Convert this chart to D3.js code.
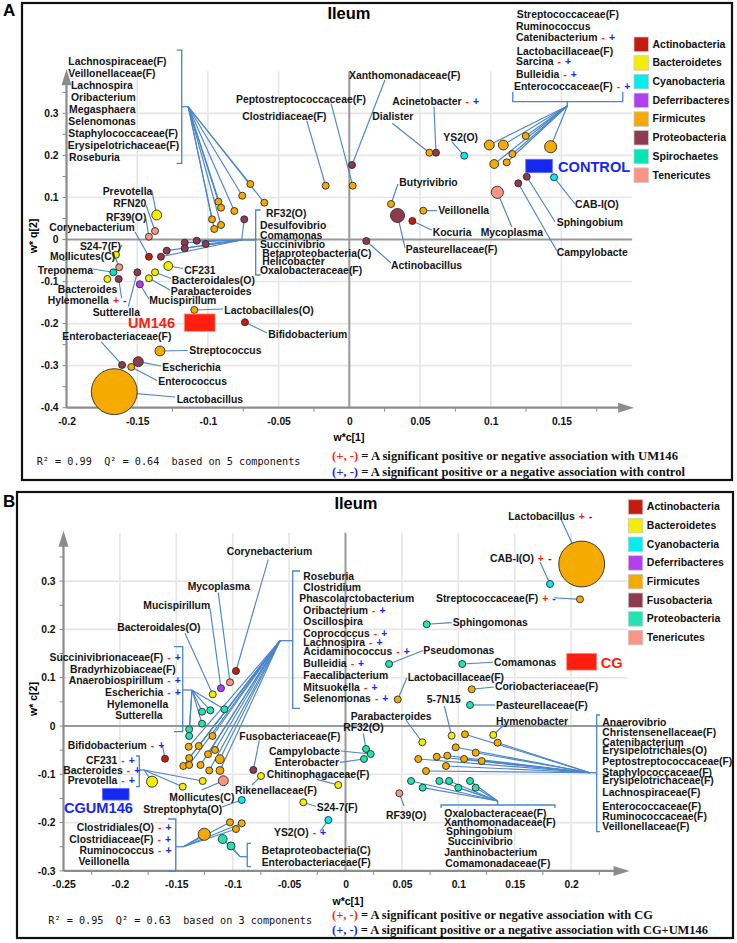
<!DOCTYPE html>
<html><head><meta charset="utf-8">
<script src="https://cdn.jsdelivr.net/npm/d3@7"></script>
<style>
body{margin:0;background:#fff}
svg text{font-family:"Liberation Sans",Arial,sans-serif}
</style></head><body>
<svg id="c" width="737" height="943"></svg>
<script>
// ---------------- DATA ----------------
// phylum codes
const phylaA = [["Actinobacteria","A"],["Bacteroidetes","B"],["Cyanobacteria","C"],["Deferribacteres","D"],["Firmicutes","F"],["Proteobacteria","P"],["Spirochaetes","S"],["Tenericutes","T"]];
const phylaB = [["Actinobacteria","A"],["Bacteroidetes","B"],["Cyanobacteria","C"],["Deferribacteres","D"],["Firmicutes","F"],["Fusobacteria","U"],["Proteobacteria","P"],["Tenericutes","T"]];

const xTicksA = [-0.2,-0.15,-0.1,-0.05,0,0.05,0.1,0.15];
const yTicksA = [-0.4,-0.3,-0.2,-0.1,0,0.1,0.2,0.3];
const xTicksB = [-0.25,-0.2,-0.15,-0.1,-0.05,0,0.05,0.1,0.15,0.2];
const yTicksB = [-0.3,-0.2,-0.1,0,0.1,0.2,0.3];

// points: [name, w*c[1], w*q[2], phylum, relative weight]
const pointsA = [
["lachno",-0.0926,0.0899,"F",1],["lachno",-0.0907,0.0756,"F",1],["lachno",-0.0971,0.0480,"F",1],
["lachno",-0.0955,0.0250,"F",1],["lachno",-0.0907,0.0345,"F",1],["lachno",-0.0813,0.0678,"F",1],
["lachno",-0.0757,0.1041,"F",1],["lachno",-0.0700,0.1320,"F",1],["lachno",-0.0601,0.0875,"F",1],
["Prevotella",-0.1362,0.0583,"B",2],["RFN20",-0.1374,0.0202,"T",1],["RF39",-0.1417,0.0067,"T",1],
["Corynebacterium",-0.1417,-0.0409,"A",1],["Clostridiaceae",-0.0167,0.1279,"F",1],
["Peptostrep",0.0024,0.1279,"F",1],["Xantho",0.0019,0.1771,"P",1],
["rf32",-0.0743,0.0480,"P",1],["rf32",-0.1164,-0.0076,"P",1],["rf32",-0.1164,-0.0209,"P",1],
["rf32",-0.1079,-0.0029,"P",1],["rf32",-0.1016,-0.0107,"P",1],["rf32",-0.1291,-0.0266,"P",1],
["rf32",-0.1332,-0.0409,"P",1],
["S24-7",-0.1650,-0.0361,"B",1],["Mollicutes",-0.1627,-0.0661,"T",1],["Treponema",-0.1669,-0.0780,"S",1],
["Bacteroides",-0.1711,-0.0939,"B",1],["Hylemonella",-0.1631,-0.0939,"P",1],["Sutterella",-0.1499,-0.0780,"P",1],
["Bacteroidales",-0.1374,-0.0780,"B",1],["Parabacteroides",-0.1417,-0.0922,"B",1],["Mucispirillum",-0.1481,-0.1065,"D",1],
["CF231",-0.1280,-0.0630,"B",1.6],["Lactobacillales",-0.1096,-0.1676,"F",1],["Bifidobacterium",-0.0738,-0.1969,"A",1],
["Streptococcus",-0.1339,-0.2651,"F",2],["Enterobacteriaceae",-0.1607,-0.2984,"P",1],["Escherichia",-0.1492,-0.2905,"P",2],
["Enterococcus",-0.1542,-0.3031,"F",1],["Lactobacillus",-0.1662,-0.3619,"F",43],
["Acinetobacter",0.0613,0.2064,"P",1],["Dialister",0.0566,0.2064,"F",1],["YS2",0.0813,0.1992,"C",1],
["strep",0.0990,0.2247,"F",2],["strep",0.1089,0.2247,"F",2],["strep",0.1248,0.2461,"F",1],["strep",0.1153,0.2033,"F",1],
["strep",0.1025,0.1795,"F",1.6],["strep",0.1113,0.1835,"F",1],["strep",0.1424,0.2206,"F",3],
["Sphingobium",0.1255,0.1493,"P",1],["Campylobacte",0.1195,0.1336,"P",1],["CAB-I",0.1448,0.1479,"C",1],
["Mycoplasma",0.1047,0.1122,"T",3],["Butyrivibrio",0.0295,0.0844,"F",1],["Pasteurellaceae",0.0341,0.0571,"P",4],
["Veillonella",0.0523,0.0685,"F",1],["Kocuria",0.0446,0.0440,"A",1],["Actinobacillus",0.0120,-0.0036,"P",1]
];

// labels: [text, x, y, significance signs, anchor]
const labelsA = [
["Lachnospiraceae(F)",-0.1987,0.4227],["Veillonellaceae(F)",-0.1987,0.3942],["Lachnospira",-0.1968,0.3657],
["Oribacterium",-0.1968,0.3371],["Megasphaera",-0.1982,0.3086],["Selenomonas",-0.1987,0.2801],
["Staphylococcaceae(F)",-0.1987,0.2515],["Erysipelotrichaceae(F)",-0.1991,0.2230],["Roseburia",-0.1982,0.1954],
["Prevotella",-0.1744,0.1153],["RFN20",-0.1669,0.0861],["RF39(O)",-0.1721,0.0528],["Corynebacterium",-0.2122,0.0281],
["S24-7(F)",-0.1905,-0.0155],["Mollicutes(C)",-0.2117,-0.0392],["Treponema",-0.2204,-0.0732],["Bacteroides",-0.2062,-0.1184],
["Hylemonella",-0.2133,-0.1438,"+-"],["Sutterella",-0.1815,-0.1731],["Bacteroidales(O)",-0.1256,-0.0963],
["Parabacteroides",-0.1263,-0.1241],["Mucispirillum",-0.1414,-0.1438],["CF231",-0.1167,-0.0725],
["Lactobacillales(O)",-0.0884,-0.1676],["Bifidobacterium",-0.0573,-0.2254],["Streptococcus",-0.1132,-0.2644],
["Enterobacteriaceae(F)",-0.2030,-0.2294],["Escherichia",-0.1322,-0.3048],["Enterococcus",-0.1351,-0.3381],
["Lactobacillus",-0.1221,-0.3799],["Clostridiaceae(F)",-0.0757,0.2920],["Peptostreptococcaceae(F)",-0.0801,0.3340],
["Xanthomonadaceae(F)",-0.0002,0.3911],
["RF32(O)",-0.0589,0.0623],["Desulfovibrio",-0.0632,0.0345],["Comamonas",-0.0632,0.0107],["Succinivibrio",-0.0632,-0.0107],
["Betaproteobacteria(C)",-0.0615,-0.0328],["Helicobacter",-0.0615,-0.0511],["Oxalobacteraceae(F)",-0.0632,-0.0742],
["Acinetobacter",0.0304,0.3293,"-+"],["Dialister",0.0163,0.2920],["YS2(O)",0.0665,0.2420],["Butyrivibrio",0.0354,0.1360],
["Veillonella",0.0629,0.0685],["Kocuria",0.0590,0.0171],["Mycoplasma",0.0929,0.0171],["Pasteurellaceae(F)",0.0399,-0.0226],
["Actinobacillus",0.0295,-0.0606],["Sphingobium",0.1467,0.0409],["Campylobacte",0.1467,-0.0314],["CAB-I(O)",0.1596,0.0837],
["Streptococcaceae(F)",0.1184,0.5354],["Ruminococcus",0.1179,0.5076],["Catenibacterium",0.1179,0.4808,"-+"],
["Lactobacillaceae(F)",0.1184,0.4482],["Sarcina",0.1179,0.4227,"-+"],["Bulleidia",0.1179,0.3935,"-+"],
["Enterococcaceae(F)",0.1165,0.3633,"-+"]
];

// leader lines: [point name, start x, start y]
const leadersA = [
["Prevotella",-0.1397,0.1177],["RFN20",-0.1438,0.0820],["RF39",-0.1438,0.0487],["Corynebacterium",-0.1516,0.0185],
["S24-7",-0.1607,-0.0131],["Mollicutes",-0.1657,-0.0416],["Treponema",-0.1813,-0.0701],["Hylemonella",-0.1610,-0.1398],
["Sutterella",-0.1563,-0.1598],["Bacteroidales",-0.1261,-0.0927],["Parabacteroides",-0.1268,-0.1201],
["Mucispirillum",-0.1417,-0.1415],["CF231",-0.1176,-0.0690],["Lactobacillales",-0.0893,-0.1652],
["Bifidobacterium",-0.0582,-0.2223],["Streptococcus",-0.1141,-0.2639],["Enterobacteriaceae",-0.1756,-0.2430],
["Escherichia",-0.1332,-0.3008],["Enterococcus",-0.1360,-0.3352],["Lactobacillus",-0.1233,-0.3745],
["Clostridiaceae",-0.0301,0.2825],["Peptostrep",-0.0129,0.3238],["Xantho",0.0252,0.3792],["Acinetobacter",0.0599,0.3157],
["Dialister",0.0304,0.2763],["YS2",0.0724,0.2325],["Butyrivibrio",0.0344,0.1320],["Veillonella",0.0620,0.0685],
["Kocuria",0.0583,0.0226],["Mycoplasma",0.1149,0.0304],["Pasteurellaceae",0.0394,-0.0202],["Actinobacillus",0.0295,-0.0559],
["Sphingobium",0.1455,0.0423],["Campylobacte",0.1467,-0.0266],["CAB-I",0.1596,0.0844]
];

// brackets: v = [spine x, y0, y1, hook x, nib y, nib x, group]; h = [spine y, x0, x1, hook y, nib x, nib y, group]
const bracketsA = [
["v",-0.1185,0.4505,0.1812,-0.1221,0.3157,-0.1139,"lachno"],
["v",-0.0662,0.0701,-0.0844,-0.0627,-0.0012,-0.0761,"rf32"],
["h",0.3278,0.1156,0.1934,0.3514,0.1542,0.3174,"strep"]
];

// group centroids: [text, x, y, text x, text y, colour key]
const groupsA = [["UM146",-0.1058,-0.1977,-0.1565,-0.1985,"red"],["CONTROL",0.1342,0.1748,0.1476,0.1731,"blue"]];

const pointsB = [
["Lactobacillus",0.2094,0.3354,"F",43],["CAB-I",0.1813,0.2940,"C",1],["Streptococcaceae",0.2079,0.2623,"F",1],
["Sphingomonas",0.0720,0.2106,"P",1],["Pseudomonas",0.0386,0.1284,"P",1],["Comamonas",0.1035,0.1284,"P",1],
["Coriobacteriaceae",0.1119,0.0760,"F",1],["Lactobacillaceae",0.0463,0.0549,"F",1],["Pasteurellaceae",0.1104,0.0435,"P",1],
["Parabacteroides",0.0681,-0.0337,"B",1],["5-7N15",0.0941,-0.0201,"B",1],["Hymenobacter",0.1310,-0.0186,"B",1],
["anaero",0.1059,-0.0172,"F",1],["anaero",0.1349,-0.0346,"F",1],["anaero",0.0977,-0.0441,"F",1],["anaero",0.1154,-0.0553,"F",1],
["anaero",0.0645,-0.0683,"F",1],["anaero",0.0809,-0.0636,"F",1],["anaero",0.0902,-0.0615,"F",1],["anaero",0.1051,-0.0683,"F",1],
["anaero",0.1207,-0.0725,"F",1],["anaero",0.0891,-0.0828,"F",1],["anaero",0.0714,-0.0932,"F",1],
["oxalo",0.0581,-0.1139,"P",1],["oxalo",0.0684,-0.1277,"P",1],["oxalo",0.0832,-0.1139,"P",1],["oxalo",0.0918,-0.1139,"P",1],
["oxalo",0.1000,-0.1277,"P",1],["oxalo",0.1104,-0.1139,"P",1],["oxalo",0.1154,-0.1277,"P",1],
["RF39",0.0477,-0.1393,"T",1],["RF32",0.0182,-0.0476,"P",1],["Campylobacte",0.0223,-0.0580,"P",1],["Enterobacter",0.0164,-0.0683,"P",1],
["Chitinophagaceae",-0.0064,-0.1222,"B",1],["Fusobacteriaceae",-0.0817,-0.0911,"U",1],["Rikenellaceae",-0.0749,-0.1035,"B",1],
["Streptophyta",-0.0920,-0.1532,"C",1],["Mollicutes",-0.1083,-0.1133,"T",2],["S24-7",-0.0374,-0.1580,"B",1],["YS2",-0.0152,-0.1946,"C",1],
["clos",-0.1252,-0.2242,"F",3],["clos",-0.1024,-0.1994,"F",1],["clos",-0.0971,-0.2133,"F",1],["clos",-0.0920,-0.2014,"F",1],
["beta",-0.1089,-0.2340,"P",1.6],["beta",-0.1015,-0.2484,"P",1.3],
["Bifidobacterium",-0.1600,-0.0677,"A",1],
["cf",-0.1715,-0.1153,"B",2.5],["cf",-0.1443,-0.1257,"B",1],["cf",-0.1266,-0.1139,"B",1],
["Corynebacterium",-0.0971,0.1139,"A",1],["Mycoplasma",-0.1024,0.0905,"T",1],["Mucispirillum",-0.1104,0.0781,"D",1],
["Bacteroidales",-0.1177,0.0656,"B",1],
["succ",-0.1272,0.0296,"P",1],["succ",-0.1199,0.0325,"P",1],["succ",-0.1074,0.0346,"P",1],["succ",-0.1272,0.0048,"P",1],
["succ",-0.1386,-0.0068,"P",1],["succ",-0.1386,-0.0207,"P",1],
["rose",-0.1179,-0.0207,"F",1],["rose",-0.1390,-0.0429,"F",1],["rose",-0.1301,-0.0414,"F",1],["rose",-0.1157,-0.0497,"F",1],
["rose",-0.1219,-0.0584,"F",1],["rose",-0.1115,-0.0687,"F",1.6],["rose",-0.1386,-0.0663,"F",1],["rose",-0.1438,-0.0828,"F",1],
["rose",-0.1386,-0.0807,"F",1],["rose",-0.1285,-0.0807,"F",1],["rose",-0.1208,-0.0921,"F",1],["rose",-0.1113,-0.0921,"F",1.3]
];

const labelsB = [
["Corynebacterium",-0.1053,0.3609],["Mycoplasma",-0.1399,0.2884],["Mucispirillum",-0.1793,0.2491],["Bacteroidales(O)",-0.2023,0.2043],
["Succinivibrionaceae(F)",-0.1615,0.1422,"-+","end"],["Bradyrhizobiaceae(F)",-0.1505,0.1180,"","end"],
["Anaerobiospirillum",-0.1615,0.0938,"-+","end"],["Escherichia",-0.1615,0.0698,"-+","end"],
["Hylemonella",-0.1571,0.0449,"","end"],["Sutterella",-0.1621,0.0222,"","end"],
["Roseburia",-0.0374,0.3106],["Clostridium",-0.0374,0.2878],["Phascolarctobacterium",-0.0410,0.2644],
["Oribacterium",-0.0374,0.2402,"-+"],["Oscillospira",-0.0374,0.2174],["Coprococcus",-0.0374,0.1925,"-+"],
["Lachnospira",-0.0374,0.1733,"-+"],["Acidaminococcus",-0.0374,0.1553,"-+"],["Bulleidia",-0.0374,0.1304,"-+"],
["Faecalibacterium",-0.0374,0.1056],["Mitsuokella",-0.0374,0.0807,"-+"],["Selenomonas",-0.0374,0.0580,"-+"],
["CF231",-0.2023,-0.0718,"-+","end"],["Bacteroides",-0.1975,-0.0911,"-+","end"],["Prevotella",-0.2023,-0.1133,"-+","end"],
["Bifidobacterium",-0.1762,-0.0393,"-+","end"],["Fusobacteriaceae(F)",-0.0941,-0.0222],
["Campylobacte",-0.0049,-0.0518,"","end"],["Enterobacter",-0.0058,-0.0752,"","end"],["Chitinophagaceae(F)",-0.0699,-0.0994],
["Rikenellaceae(F)",-0.0980,-0.1325],["Mollicutes(C)",-0.1562,-0.1484],["Streptophyta(O)",-0.1793,-0.1718],
["S24-7(F)",-0.0255,-0.1683],["YS2(O)",-0.0634,-0.2201,"-+"],
["Clostridiales(O)",-0.2383,-0.2106,"-+"],["Clostridiaceae(F)",-0.2449,-0.2340,"-+"],["Ruminococcus",-0.2358,-0.2582,"-+"],
["Veillonella",-0.2367,-0.2810],["Betaproteobacteria(C)",-0.0743,-0.2567],["Enterobacteriaceae(F)",-0.0743,-0.2822],
["Anaerovibrio",0.2277,0.0083],["Christensenellaceae(F)",0.2277,-0.0139],["Catenibacterium",0.2277,-0.0346],
["Erysipelotrichales(O)",0.2277,-0.0503],["Peptostreptococcaceae(F)",0.2277,-0.0725],["Staphylococcaceae(F)",0.2277,-0.0952],
["Erysipelotrichaceae(F)",0.2277,-0.1118],["Lachnospiraceae(F)",0.2277,-0.1381],["Enterococcaceae(F)",0.2277,-0.1656],
["Ruminococcaceae(F)",0.2277,-0.1863],["Veillonellaceae(F)",0.2277,-0.2085],
["Oxalobacteraceae(F)",0.0876,-0.1807],["Xanthomonadaceae(F)",0.0876,-0.2002],["Sphingobium",0.0891,-0.2188],
["Succinivibrio",0.0906,-0.2395],["Janthinobacterium",0.0876,-0.2623],["Comamonadaceae(F)",0.0885,-0.2843],
["RF39(O)",0.0359,-0.1843],["Parabacteroides",0.0046,0.0207],["RF32(O)",-0.0020,-0.0035],["5-7N15",0.0720,0.0553],
["Lactobacillaceae(F)",0.0551,0.1000],["Coriobacteriaceae(F)",0.1325,0.0814],["Pasteurellaceae(F)",0.1334,0.0435],
["Hymenobacter",0.1334,0.0089],["Comamonas",0.1316,0.1319],["Pseudomonas",0.0690,0.1573],["Sphingomonas",0.0950,0.2139],
["Streptococcaceae(F)",0.0802,0.2644,"+-"],["CAB-I(O)",0.1281,0.3472,"+-"],["Lactobacillus",0.1443,0.4348,"+-"]
];

const leadersB = [
["Corynebacterium",-0.0684,0.3451],["Mycoplasma",-0.1128,0.2760],["Mucispirillum",-0.1201,0.2437],["Bacteroidales",-0.1423,0.1919],
["Bifidobacterium",-0.1624,-0.0393],["Fusobacteriaceae",-0.0764,-0.0290],["Campylobacte",-0.0040,-0.0518],
["Enterobacter",-0.0049,-0.0752],["Chitinophagaceae",-0.0255,-0.1104],["Rikenellaceae",-0.0829,-0.1222],
["Mollicutes",-0.1275,-0.1325],["Streptophyta",-0.1098,-0.1677],["S24-7",-0.0262,-0.1667],["YS2",-0.0226,-0.2188],
["RF39",0.0519,-0.1656],["Parabacteroides",0.0536,0.0124],["RF32",0.0158,-0.0151],["5-7N15",0.0876,0.0414],
["Lactobacillaceae",0.0543,0.0994],["Coriobacteriaceae",0.1316,0.0807],["Pasteurellaceae",0.1325,0.0435],
["Hymenobacter",0.1414,0.0041],["Comamonas",0.1307,0.1319],["Pseudomonas",0.0687,0.1563],["Sphingomonas",0.0941,0.2139],
["Streptococcaceae",0.1848,0.2656],["CAB-I",0.1724,0.3402],["Lactobacillus",0.1902,0.4321]
];

const bracketsB = [
["v",-0.1443,0.1642,-0.0118,-0.1520,0.0745,-0.1361,"succ"],
["v",-0.0468,0.3209,0.0366,-0.0403,0.1766,-0.0581,"rose"],
["v",-0.1828,-0.0621,-0.1257,-0.1857,-0.0911,-0.1786,"cf"],
["v",-0.1505,-0.1925,-0.3002,-0.1574,-0.2499,-0.1438,"clos"],
["v",-0.0871,-0.2429,-0.2913,-0.0838,-0.2706,-0.0935,"beta"],
["v",0.2227,0.0228,-0.2188,0.2256,-0.0967,0.2168,"anaero"],
["h",-0.1636,0.0847,0.1857,-0.1698,0.1349,-0.1553,"oxalo"]
];

const groupsB = [["CG",0.2094,0.1331,0.2262,0.1298,"red"],["CGUM146",-0.2037,-0.1412,-0.2496,-0.1704,"blue"]];

// ---------------- STYLE / LAYOUT ----------------
const colA = {A:"#c41c0e",B:"#f2ee00",C:"#00eef2",D:"#b13ff0",F:"#f5aa00",P:"#8e3b4f",S:"#00e6b4",T:"#fa9585"};
const colB = {A:"#c41c0e",B:"#f2ee00",C:"#00eef2",D:"#b13ff0",F:"#f5aa00",U:"#8e3b4f",P:"#22e3b2",T:"#fa9585"};
const RED="#ff1f10", BLUE="#1428f0", LEAD="#4a86c8";
const FS = 10.4;

const svg = d3.select("#c");

function panel(cfg){
  const g = svg.append("g");
  const x = d3.scaleLinear().domain(cfg.xd).range(cfg.xr);
  const y = d3.scaleLinear().domain(cfg.yd).range(cfg.yr);
  const [x0,x1]=cfg.xr, [yb,yt]=cfg.yr;
  const col = cfg.col;
  const r = w => 3.5*Math.sqrt(w);

  g.append("rect").attr("x",cfg.frame[0]).attr("y",cfg.frame[1]).attr("width",cfg.frame[2]).attr("height",cfg.frame[3])
    .attr("fill","none").attr("stroke","#111").attr("stroke-width",2.2);
  g.append("text").attr("x",cfg.letter[0]).attr("y",cfg.letter[1]).text(cfg.letter[2])
    .attr("font-size",17).attr("font-weight","bold");
  g.append("text").attr("x",cfg.title[0]).attr("y",cfg.title[1]).attr("text-anchor","middle").text("Ileum")
    .attr("font-size",16.5).attr("font-weight","bold");

  // grid
  const gx = cfg.xt.filter(v=>v>cfg.xd[0]+1e-9 && Math.abs(v)>1e-9);
  const gy = cfg.yt.filter(v=>v>cfg.yd[0]+1e-9 && Math.abs(v)>1e-9);
  g.selectAll(".gx").data(gx).join("line").attr("x1",d=>x(d)).attr("x2",d=>x(d)).attr("y1",yb).attr("y2",yt)
    .attr("stroke","#e6e6e6").attr("stroke-width",1.6);
  g.selectAll(".gy").data(gy).join("line").attr("y1",d=>y(d)).attr("y2",d=>y(d)).attr("x1",x0).attr("x2",x1)
    .attr("stroke","#e6e6e6").attr("stroke-width",1.6);
  // zero lines
  g.append("line").attr("x1",x(0)).attr("x2",x(0)).attr("y1",yb).attr("y2",yt).attr("stroke","#999").attr("stroke-width",2);
  g.append("line").attr("x1",x0).attr("x2",x1).attr("y1",y(0)).attr("y2",y(0)).attr("stroke","#999").attr("stroke-width",2);

  // axes (library axes for ticks)
  const fmt = d => Math.abs(d)<1e-9 ? "0" : String(+d.toFixed(2));
  const ax = g.append("g").attr("transform",`translate(0,${yb})`)
    .call(d3.axisBottom(x).tickValues(cfg.xt).tickFormat(fmt).tickSize(0).tickPadding(10));
  ax.select(".domain").remove();
  ax.selectAll("text").attr("font-size",10.3).attr("font-weight","bold").attr("fill","#111")
    .style("font-family",'"Liberation Sans",Arial,sans-serif');
  const ay = g.append("g").attr("transform",`translate(${x0},0)`)
    .call(d3.axisLeft(y).tickValues(cfg.yt).tickFormat(fmt).tickSize(0).tickPadding(8));
  ay.select(".domain").remove();
  ay.selectAll("text").attr("font-size",10.3).attr("font-weight","bold").attr("fill","#111")
    .style("font-family",'"Liberation Sans",Arial,sans-serif');
  // minor ticks
  const xm = d3.range(cfg.xd[0]+0.025, cfg.xd[1]-0.01, 0.05);
  g.selectAll(".xm").data(xm).join("line").attr("x1",d=>x(d)).attr("x2",d=>x(d)).attr("y1",yb).attr("y2",yb+4)
    .attr("stroke","#888").attr("stroke-width",1);
  const ym = d3.range(cfg.yd[0]+0.05, cfg.yd[1]-0.01, 0.1);
  g.selectAll(".ym").data(ym).join("line").attr("y1",d=>y(d)).attr("y2",d=>y(d)).attr("x1",x0-4).attr("x2",x0)
    .attr("stroke","#888").attr("stroke-width",1);
  g.selectAll(".yM").data(cfg.yt).join("line").attr("y1",d=>y(d)).attr("y2",d=>y(d)).attr("x1",x0-4).attr("x2",x0)
    .attr("stroke","#888").attr("stroke-width",1);
  // axis lines with arrows
  g.append("line").attr("x1",x0).attr("x2",x1-8).attr("y1",yb).attr("y2",yb).attr("stroke","#8c8c8c").attr("stroke-width",2.2);
  g.append("line").attr("x1",x0).attr("x2",x0).attr("y1",yb).attr("y2",yt+8).attr("stroke","#8c8c8c").attr("stroke-width",2.2);
  g.append("path").attr("d",`M${x1+2},${yb} L${x1-14},${yb-5} L${x1-14},${yb+5} Z`).attr("fill","#8c8c8c");
  g.append("path").attr("d",`M${x0},${yt-2} L${x0-5},${yt+14} L${x0+5},${yt+14} Z`).attr("fill","#8c8c8c");
  // axis titles
  g.append("text").attr("x",cfg.xTitle[0]).attr("y",cfg.xTitle[1]).attr("text-anchor","middle").attr("dy","0.35em")
    .text("w*c[1]").attr("font-size",10.5).attr("font-weight","bold");
  g.append("text").attr("transform",`translate(${cfg.yTitle[0]},${cfg.yTitle[1]}) rotate(-90)`).attr("text-anchor","middle")
    .attr("dy","0.35em").text(cfg.yTitle[2]).attr("font-size",10.5).attr("font-weight","bold");

  // legend
  const lg = g.append("g");
  cfg.phyla.forEach((p,i)=>{
    const cy = cfg.legend[1] + i*cfg.legend[2];
    lg.append("rect").attr("x",cfg.legend[0]).attr("y",cy-7).attr("width",14.5).attr("height",14.5)
      .attr("fill",col[p[1]]).attr("stroke","#c8c8c8").attr("stroke-width",0.8);
    lg.append("text").attr("x",cfg.legend[0]+18.5).attr("y",cy).attr("dy","0.35em").text(p[0])
      .attr("font-size",10.5).attr("font-weight","bold").attr("fill","#111");
  });

  // index points by name
  const byName = {};
  cfg.points.forEach(p=>{ (byName[p[0]] = byName[p[0]] || []).push(p); });

  const L = g.append("g").attr("fill","none").attr("stroke",LEAD).attr("stroke-width",1.15);
  // leaders
  cfg.leaders.forEach(l=>{
    const p = byName[l[0]][0];
    L.append("line").attr("x1",x(l[1])).attr("y1",y(l[2])).attr("x2",x(p[1])).attr("y2",y(p[2]));
  });
  // brackets
  cfg.brackets.forEach(b=>{
    let nx, ny;
    if(b[0]==="v"){
      const [_,sx,y0,y1,hx,nyv,nxv,grp] = b;
      L.append("path").attr("d",`M${x(hx)},${y(y0)} L${x(sx)},${y(y0)} L${x(sx)},${y(y1)} L${x(hx)},${y(y1)}`).attr("stroke-width",1.3);
      L.append("line").attr("x1",x(sx)).attr("x2",x(nxv)).attr("y1",y(nyv)).attr("y2",y(nyv)).attr("stroke-width",1.3);
      nx = x(nxv); ny = y(nyv);
      byName[grp].forEach(p=>L.append("line").attr("x1",nx).attr("y1",ny).attr("x2",x(p[1])).attr("y2",y(p[2])));
    } else {
      const [_,sy,xa,xb,hy,nxv,nyv,grp] = b;
      L.append("path").attr("d",`M${x(xa)},${y(hy)} L${x(xa)},${y(sy)} L${x(xb)},${y(sy)} L${x(xb)},${y(hy)}`).attr("stroke-width",1.3);
      L.append("line").attr("x1",x(nxv)).attr("x2",x(nxv)).attr("y1",y(sy)).attr("y2",y(nyv)).attr("stroke-width",1.3);
      nx = x(nxv); ny = y(nyv);
      byName[grp].forEach(p=>L.append("line").attr("x1",nx).attr("y1",ny).attr("x2",x(p[1])).attr("y2",y(p[2])));
    }
  });

  // points (largest first)
  const pts = cfg.points.slice().sort((a,b)=>b[4]-a[4]);
  g.append("g").selectAll("circle").data(pts).join("circle")
    .attr("cx",d=>x(d[1])).attr("cy",d=>y(d[2])).attr("r",d=>r(d[4]))
    .attr("fill",d=>col[d[3]]).attr("stroke","#2a2a2a").attr("stroke-width",0.9);

  // labels
  const T = g.append("g").attr("font-size",FS).attr("font-weight","bold").attr("fill","#161616");
  cfg.labels.forEach(l=>{
    const anchor = l[4]||"start";
    const t = T.append("text").attr("x",x(l[1])).attr("y",y(l[2])).attr("dy","0.35em").attr("text-anchor",anchor).text(l[0]);
    if(l[3]){
      const w = t.node().getComputedTextLength();
      const sx = anchor==="start" ? x(l[1])+w+4 : x(l[1])+4;
      const s = T.append("text").attr("x",sx).attr("y",y(l[2])).attr("dy","0.35em");
      s.append("tspan").attr("fill",RED).text(l[3][0]);
      s.append("tspan").attr("fill",BLUE).attr("dx",4).text(l[3][1]);
    }
  });

  // group centroids
  cfg.groups.forEach((gr,i)=>{
    const c = gr[5]==="red" ? RED : BLUE;
    const [w,h] = cfg.groupSize[i];
    g.append("rect").attr("x",x(gr[1])-w/2).attr("y",y(gr[2])-h/2).attr("width",w).attr("height",h).attr("fill",c)
      .attr("stroke",gr[5]==="red"?"#ff8a70":"#6070ff").attr("stroke-width",0.8);
    g.append("text").attr("x",x(gr[3])).attr("y",y(gr[4])).attr("dy","0.35em").text(gr[0]).attr("fill",c)
      .attr("font-size",14.6).attr("font-weight","bold");
  });

  // footer
  g.append("text").attr("x",cfg.r2[0]).attr("y",cfg.r2[1]).attr("dy","0.35em").style("white-space","pre")
    .style("font-family",'"DejaVu Sans Mono","Liberation Mono",monospace').attr("font-size",10.2).attr("fill","#111")
    .text(cfg.r2[2]);
  cfg.notes.forEach((n,i)=>{
    const t = g.append("text").attr("x",cfg.noteX).attr("y",n[0]).attr("dy","0.35em")
      .attr("textLength",n[2]).attr("lengthAdjust","spacingAndGlyphs")
      .style("font-family",'"Liberation Serif","Times New Roman",serif').attr("font-size",12.8).attr("font-weight","bold");
    t.append("tspan").attr("fill",i===0?RED:BLUE).text("(+, -)");
    t.append("tspan").attr("fill","#111").text(" = "+n[1]);
  });
}

panel({
  frame:[22,3,710,477], letter:[3,16,"A"], title:[349,19],
  xd:[-0.2,0.2], xr:[66.5,632.1], yd:[-0.4,0.4], yr:[407.7,71.3],
  xt:xTicksA, yt:yTicksA, col:colA, phyla:phylaA, legend:[634,44,18.7],
  xTitle:[349,437], yTitle:[33,236,"w* q[2]"],
  points:pointsA, labels:labelsA, leaders:leadersA, brackets:bracketsA,
  groups:groupsA, groupSize:[[30.7,17.3],[26.6,13.4]],
  r2:[36.7,461.7,"R\u00b2 = 0.99  Q\u00b2 = 0.64  based on 5 components"],
  noteX:332, notes:[[456,"A significant positive or negative association with UM146",346],[472,"A significant positive or a negative association with control",353]]
});
panel({
  frame:[17,492,716,446], letter:[3,507,"B"], title:[356,509],
  xd:[-0.25,0.25], xr:[63.5,627.5], yd:[-0.3,0.4], yr:[870.9,532.8],
  xt:xTicksB, yt:yTicksB, col:colB, phyla:phylaB, legend:[628.3,506.7,18.66],
  xTitle:[348,901], yTitle:[33,699,"w* c[2]"],
  points:pointsB, labels:labelsB, leaders:leadersB, brackets:bracketsB,
  groups:groupsB, groupSize:[[30,16.7],[26.7,11.7]],
  r2:[48.3,920,"R\u00b2 = 0.95  Q\u00b2 = 0.63  based on 3 components"],
  noteX:332, notes:[[915,"A significant positive or negative association with CG",321],[929.3,"A significant positive or a negative association with CG+UM146",376]]
});
</script>
</body></html>
